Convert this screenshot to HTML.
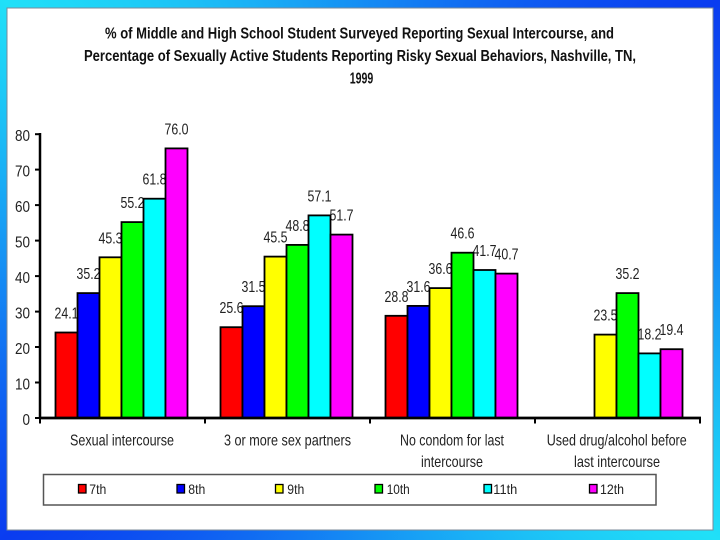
<!DOCTYPE html>
<html><head><meta charset="utf-8">
<style>
html,body{margin:0;padding:0;}
body{width:720px;height:540px;overflow:hidden;
background:conic-gradient(from -53deg at 50% 50%, #20e0f8 0deg, #0a3cf0 106deg, #20e0f8 180deg, #0a3cf0 286deg, #20e0f8 360deg);}
svg{display:block;}
text{font-family:"Liberation Sans",Arial,sans-serif;}
</style></head>
<body>
<svg width="720" height="540" viewBox="0 0 720 540" xmlns="http://www.w3.org/2000/svg">
<rect x="7" y="8" width="706" height="522" fill="#ffffff" stroke="#7a8a9a" stroke-width="1"/>

<!-- Title -->
<g font-weight="bold" font-size="16" fill="#111" text-anchor="middle">
<text x="359.5" y="38.5" textLength="509" lengthAdjust="spacingAndGlyphs">% of Middle and High School Student Surveyed Reporting Sexual Intercourse, and</text>
<text x="360" y="61" textLength="552" lengthAdjust="spacingAndGlyphs">Percentage of Sexually Active Students Reporting Risky Sexual Behaviors, Nashville, TN,</text>
<text x="361.5" y="83.5" textLength="23.5" lengthAdjust="spacingAndGlyphs">1999</text>
</g>

<!-- Y axis labels -->
<g font-size="16" fill="#222" text-anchor="end">
<text x="30" y="141" textLength="15" lengthAdjust="spacingAndGlyphs">80</text>
<text x="30" y="176.4" textLength="15" lengthAdjust="spacingAndGlyphs">70</text>
<text x="30" y="211.9" textLength="15" lengthAdjust="spacingAndGlyphs">60</text>
<text x="30" y="247.4" textLength="15" lengthAdjust="spacingAndGlyphs">50</text>
<text x="30" y="282.9" textLength="15" lengthAdjust="spacingAndGlyphs">40</text>
<text x="30" y="318.4" textLength="15" lengthAdjust="spacingAndGlyphs">30</text>
<text x="30" y="353.8" textLength="15" lengthAdjust="spacingAndGlyphs">20</text>
<text x="30" y="389.3" textLength="15" lengthAdjust="spacingAndGlyphs">10</text>
<text x="30" y="424.8" textLength="7.5" lengthAdjust="spacingAndGlyphs">0</text>
</g>

<!-- Data labels -->
<g font-size="16" fill="#222" text-anchor="middle">
<text x="66.5" y="318.5" textLength="24" lengthAdjust="spacingAndGlyphs">24.1</text>
<text x="88.5" y="279.1" textLength="24" lengthAdjust="spacingAndGlyphs">35.2</text>
<text x="110.5" y="243.3" textLength="24" lengthAdjust="spacingAndGlyphs">45.3</text>
<text x="132.5" y="208.1" textLength="24" lengthAdjust="spacingAndGlyphs">55.2</text>
<text x="154.5" y="184.7" textLength="24" lengthAdjust="spacingAndGlyphs">61.8</text>
<text x="176.5" y="134.4" textLength="24" lengthAdjust="spacingAndGlyphs">76.0</text>

<text x="231.5" y="313.2" textLength="24" lengthAdjust="spacingAndGlyphs">25.6</text>
<text x="253.5" y="292.2" textLength="24" lengthAdjust="spacingAndGlyphs">31.5</text>
<text x="275.5" y="242.6" textLength="24" lengthAdjust="spacingAndGlyphs">45.5</text>
<text x="297.5" y="230.9" textLength="24" lengthAdjust="spacingAndGlyphs">48.8</text>
<text x="319.5" y="201.4" textLength="24" lengthAdjust="spacingAndGlyphs">57.1</text>
<text x="341.5" y="220.6" textLength="24" lengthAdjust="spacingAndGlyphs">51.7</text>

<text x="396.5" y="301.8" textLength="24" lengthAdjust="spacingAndGlyphs">28.8</text>
<text x="418.5" y="291.9" textLength="24" lengthAdjust="spacingAndGlyphs">31.6</text>
<text x="440.5" y="274.1" textLength="24" lengthAdjust="spacingAndGlyphs">36.6</text>
<text x="462.5" y="238.7" textLength="24" lengthAdjust="spacingAndGlyphs">46.6</text>
<text x="484.5" y="256" textLength="24" lengthAdjust="spacingAndGlyphs">41.7</text>
<text x="506.5" y="259.6" textLength="24" lengthAdjust="spacingAndGlyphs">40.7</text>

<text x="605.5" y="320.6" textLength="24" lengthAdjust="spacingAndGlyphs">23.5</text>
<text x="627.5" y="279.1" textLength="24" lengthAdjust="spacingAndGlyphs">35.2</text>
<text x="649.5" y="339.4" textLength="24" lengthAdjust="spacingAndGlyphs">18.2</text>
<text x="671.5" y="335.2" textLength="24" lengthAdjust="spacingAndGlyphs">19.4</text>
</g>

<!-- Bars -->
<g stroke="#000" stroke-width="1.8">
<rect x="55.5" y="332.5" width="22" height="85.5" fill="#ff0000"/>
<rect x="77.5" y="293.1" width="22" height="124.9" fill="#0000ff"/>
<rect x="99.5" y="257.3" width="22" height="160.7" fill="#ffff00"/>
<rect x="121.5" y="222.1" width="22" height="195.9" fill="#00ff00"/>
<rect x="143.5" y="198.7" width="22" height="219.3" fill="#00ffff"/>
<rect x="165.5" y="148.4" width="22" height="269.6" fill="#ff00ff"/>

<rect x="220.5" y="327.2" width="22" height="90.8" fill="#ff0000"/>
<rect x="242.5" y="306.2" width="22" height="111.8" fill="#0000ff"/>
<rect x="264.5" y="256.6" width="22" height="161.4" fill="#ffff00"/>
<rect x="286.5" y="244.9" width="22" height="173.1" fill="#00ff00"/>
<rect x="308.5" y="215.4" width="22" height="202.6" fill="#00ffff"/>
<rect x="330.5" y="234.6" width="22" height="183.4" fill="#ff00ff"/>

<rect x="385.5" y="315.8" width="22" height="102.2" fill="#ff0000"/>
<rect x="407.5" y="305.9" width="22" height="112.1" fill="#0000ff"/>
<rect x="429.5" y="288.1" width="22" height="129.9" fill="#ffff00"/>
<rect x="451.5" y="252.7" width="22" height="165.3" fill="#00ff00"/>
<rect x="473.5" y="270" width="22" height="148" fill="#00ffff"/>
<rect x="495.5" y="273.6" width="22" height="144.4" fill="#ff00ff"/>

<rect x="594.5" y="334.6" width="22" height="83.4" fill="#ffff00"/>
<rect x="616.5" y="293.1" width="22" height="124.9" fill="#00ff00"/>
<rect x="638.5" y="353.4" width="22" height="64.6" fill="#00ffff"/>
<rect x="660.5" y="349.2" width="22" height="68.8" fill="#ff00ff"/>
</g>

<!-- Axes -->
<g stroke="#000" fill="none">
<line x1="40" y1="133" x2="40" y2="419" stroke-width="2.5"/>
<line x1="39" y1="418" x2="701" y2="418" stroke-width="2.8"/>
<g stroke-width="2">
<line x1="35" y1="134.2" x2="40" y2="134.2"/>
<line x1="35" y1="169.6" x2="40" y2="169.6"/>
<line x1="35" y1="205.1" x2="40" y2="205.1"/>
<line x1="35" y1="240.6" x2="40" y2="240.6"/>
<line x1="35" y1="276.1" x2="40" y2="276.1"/>
<line x1="35" y1="311.6" x2="40" y2="311.6"/>
<line x1="35" y1="347" x2="40" y2="347"/>
<line x1="35" y1="382.5" x2="40" y2="382.5"/>
<line x1="35" y1="418" x2="40" y2="418"/>
<line x1="40" y1="418" x2="40" y2="423.5"/>
<line x1="205" y1="418" x2="205" y2="423.5"/>
<line x1="370" y1="418" x2="370" y2="423.5"/>
<line x1="535" y1="418" x2="535" y2="423.5"/>
<line x1="700" y1="418" x2="700" y2="423.5"/>
</g>
</g>

<!-- Category labels -->
<g font-size="16" fill="#222" text-anchor="middle">
<text x="122" y="445.5" textLength="104" lengthAdjust="spacingAndGlyphs">Sexual intercourse</text>
<text x="287.5" y="445.5" textLength="127" lengthAdjust="spacingAndGlyphs">3 or more sex partners</text>
<text x="452" y="445.5" textLength="104" lengthAdjust="spacingAndGlyphs">No condom for last</text>
<text x="452" y="467" textLength="62" lengthAdjust="spacingAndGlyphs">intercourse</text>
<text x="616.7" y="445.5" textLength="140" lengthAdjust="spacingAndGlyphs">Used drug/alcohol before</text>
<text x="617" y="467" textLength="86" lengthAdjust="spacingAndGlyphs">last intercourse</text>
</g>

<!-- Legend -->
<rect x="43.5" y="474.5" width="612.5" height="30.5" fill="#fff" stroke="#555" stroke-width="1.5"/>
<g stroke="#000" stroke-width="1.3">
<rect x="78.5" y="484.5" width="7.5" height="8.5" fill="#ff0000"/>
<rect x="177" y="484.5" width="7.5" height="8.5" fill="#0000ff"/>
<rect x="275.5" y="484.5" width="7.5" height="8.5" fill="#ffff00"/>
<rect x="375" y="484.5" width="7.5" height="8.5" fill="#00ff00"/>
<rect x="484" y="484.5" width="7.5" height="8.5" fill="#00ffff"/>
<rect x="589.5" y="484.5" width="7.5" height="8.5" fill="#ff00ff"/>
</g>
<g font-size="14" fill="#222">
<text x="89.3" y="494" textLength="17" lengthAdjust="spacingAndGlyphs">7th</text>
<text x="188.3" y="494" textLength="17" lengthAdjust="spacingAndGlyphs">8th</text>
<text x="287.3" y="494" textLength="17" lengthAdjust="spacingAndGlyphs">9th</text>
<text x="386.7" y="494" textLength="23" lengthAdjust="spacingAndGlyphs">10th</text>
<text x="493.3" y="494" textLength="24" lengthAdjust="spacingAndGlyphs">11th</text>
<text x="600" y="494" textLength="24" lengthAdjust="spacingAndGlyphs">12th</text>
</g>
</svg>
</body></html>
